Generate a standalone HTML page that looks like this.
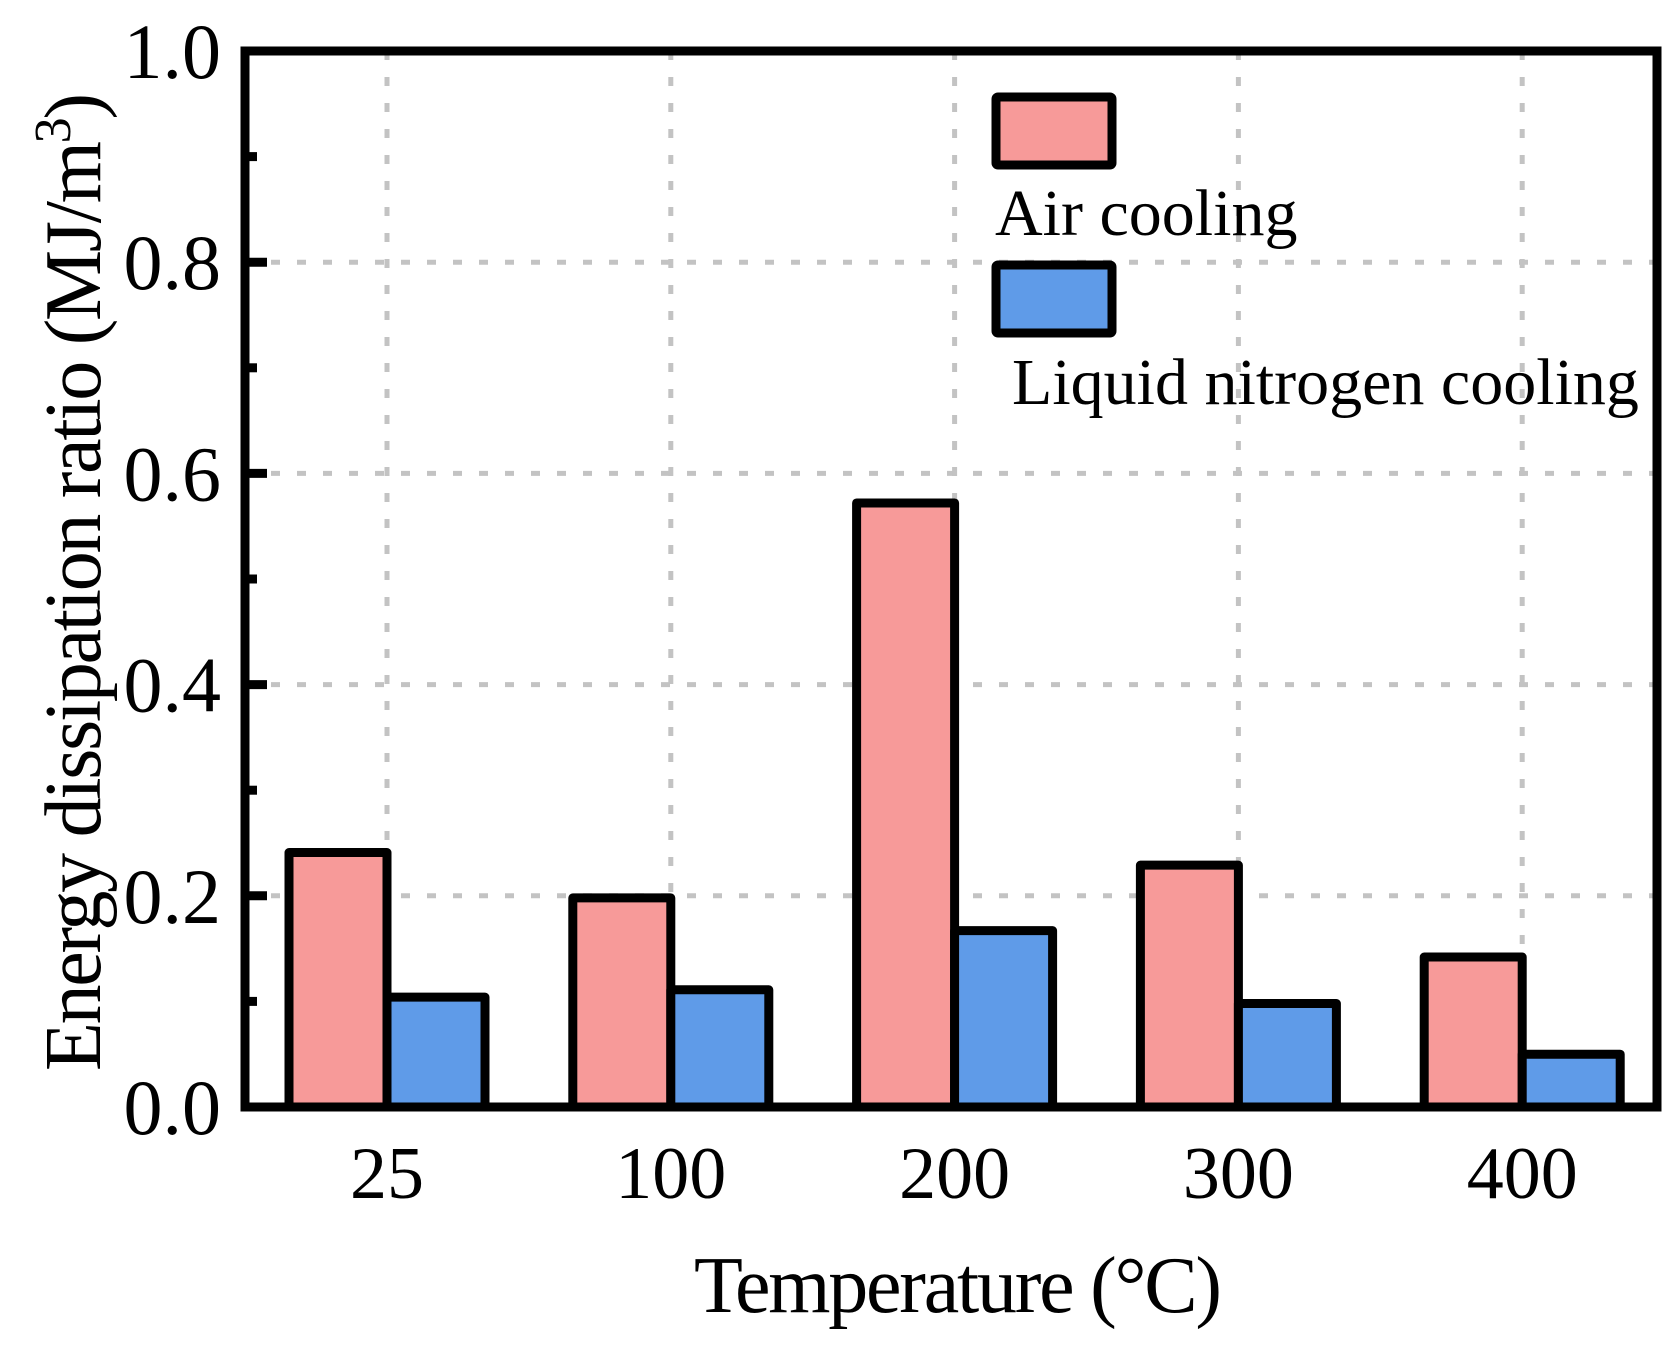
<!DOCTYPE html>
<html><head><meta charset="utf-8"><style>
html,body{margin:0;padding:0;background:#fff;}
svg{display:block;font-family:"Liberation Serif","Times New Roman",serif;}
</style></head><body>
<svg id="chart" width="1680" height="1346" viewBox="0 0 1680 1346" xmlns="http://www.w3.org/2000/svg">
<g id="grid"></g>
<g id="bars"></g>
<g id="axes"></g>
<g id="legend">
  <rect x="996" y="97" width="116" height="68" fill="#f79a99" stroke="#000" stroke-width="9" rx="2"/>
  <text x="995" y="235" font-size="66">Air cooling</text>
  <rect x="996" y="265" width="116" height="68" fill="#5f9be8" stroke="#000" stroke-width="9" rx="2"/>
  <text x="1012" y="404" font-size="66">Liquid nitrogen cooling</text>
</g>
<text x="958" y="1312" font-size="80" text-anchor="middle" textLength="528">Temperature (°C)</text>
<text transform="translate(100,582) rotate(-90)" font-size="80" text-anchor="middle" textLength="978">Energy dissipation ratio (MJ/m<tspan dy="-30" font-size="52">3</tspan><tspan dy="30">)</tspan></text>
</svg>
<script>
const categories = ["25","100","200","300","400"];
const airCooling = [0.241, 0.198, 0.572, 0.229, 0.142];
const ln2Cooling = [0.104, 0.111, 0.167, 0.098, 0.050];
const yTicks = [0.0, 0.2, 0.4, 0.6, 0.8, 1.0];
const yTickLabels = ["0.0","0.2","0.4","0.6","0.8","1.0"];
const yMinorTicks = [0.1, 0.3, 0.5, 0.7, 0.9];

const NS = "http://www.w3.org/2000/svg";
const L = 245, R = 1657, T = 51, B = 1107;
const firstC = 387, stepC = 283.8, barW = 98;
function y(v){ return B - v * (B - T); }
function xc(i){ return firstC + i * stepC; }
function mk(tag, attrs, parent){
  const e = document.createElementNS(NS, tag);
  for (const k in attrs) e.setAttribute(k, attrs[k]);
  parent.appendChild(e); return e;
}
const grid = document.getElementById('grid');
const bars = document.getElementById('bars');
const axes = document.getElementById('axes');

yTicks.forEach((v, i) => {
  if (v > 0 && v < 1) {
    const g = mk('line', {x1: L, x2: R, y1: y(v), y2: y(v), stroke: '#c3c3c3', 'stroke-width': 5, 'stroke-dasharray': '9 17'}, grid);
    
    
  }
});
categories.forEach((c, i) => {
  const g = mk('line', {x1: xc(i), x2: xc(i), y1: T, y2: B, stroke: '#c3c3c3', 'stroke-width': 5, 'stroke-dasharray': '9 17'}, grid);
  
  
});

categories.forEach((c, i) => {
  const a = mk('rect', {x: xc(i) - barW, y: y(airCooling[i]), width: barW, height: B - y(airCooling[i]), fill: '#f79a99', stroke: '#000', 'stroke-width': 9, 'stroke-linejoin': 'round'}, bars);
  
  
  const b = mk('rect', {x: xc(i), y: y(ln2Cooling[i]), width: barW, height: B - y(ln2Cooling[i]), fill: '#5f9be8', stroke: '#000', 'stroke-width': 9, 'stroke-linejoin': 'round'}, bars);
  
  
  const t = mk('text', {x: xc(i), y: 1198, 'font-size': 74, 'text-anchor': 'middle'}, axes);
  t.textContent = c;
  
  
});

const frame = mk('rect', {x: L, y: T, width: R - L, height: B - T, fill: 'none', stroke: '#000', 'stroke-width': 9}, axes);



yTicks.forEach((v, i) => {
  const tk = mk('line', {x1: L, x2: L + 22, y1: y(v), y2: y(v), stroke: '#000', 'stroke-width': 9}, axes);
  
  
  const t = mk('text', {x: 221, y: y(v) + 27, 'font-size': 78, 'text-anchor': 'end'}, axes);
  t.textContent = yTickLabels[i];
  
  
});
yMinorTicks.forEach(v => {
  const tk = mk('line', {x1: L, x2: L + 12, y1: y(v), y2: y(v), stroke: '#000', 'stroke-width': 9}, axes);
  
  
});
</script>
</body></html>
